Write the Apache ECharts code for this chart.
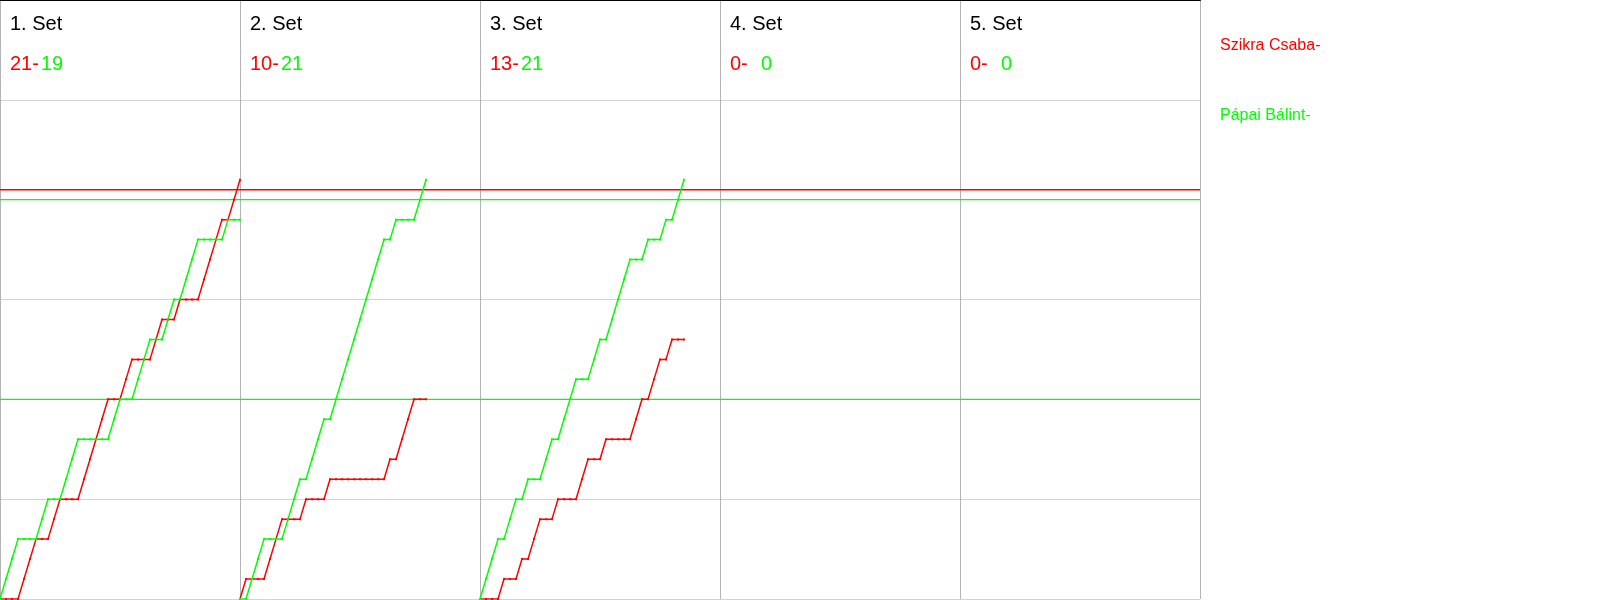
<!DOCTYPE html>
<html>
<head>
<meta charset="utf-8">
<script src="https://cdn.jsdelivr.net/npm/echarts@6/dist/echarts.min.js"></script>
<style>html,body{margin:0;padding:0;background:#fff}#c{width:1600px;height:600px}</style>
</head>
<body>
<div id="c"></div>
<script>
// ---- data ----
const setNames = ['1. Set', '2. Set', '3. Set', '4. Set', '5. Set'];
const redPlayer = 'Szikra Csaba';
const greenPlayer = 'Pápai Bálint';
const redSetPoints = [21, 10, 13, 0, 0];
const greenSetPoints = [19, 21, 21, 0, 0];
// running score after each rally (index = rally number)
const red1 = [0,0,0,0,1,2,3,3,3,4,5,5,5,5,6,7,8,9,10,10,10,11,12,12,12,12,13,14,14,14,15,15,15,15,16,17,18,19,19,20,21];
const green1 = [0,1,2,3,3,3,3,4,5,5,5,6,7,8,8,8,8,8,8,9,10,10,10,11,12,13,13,13,14,15,15,16,17,18,18,18,18,18,19,19,19];
const red2 = [0,1,1,1,1,2,3,4,4,4,4,5,5,5,5,6,6,6,6,6,6,6,6,6,6,7,7,8,9,10,10,10];
const green2 = [0,0,1,2,3,3,3,3,4,5,6,6,7,8,9,9,10,11,12,13,14,15,16,17,18,18,19,19,19,19,20,21];
const red3 = [0,0,0,0,1,1,1,2,2,3,4,4,4,5,5,5,5,6,7,7,7,8,8,8,8,8,9,10,10,11,12,12,13,13,13];
const green3 = [0,1,2,3,3,4,5,5,6,6,6,7,8,8,9,10,11,11,11,12,13,13,14,15,16,17,17,17,18,18,18,19,19,20,21];
const red4 = [];
const green4 = [];
const red5 = [];
const green5 = [];
const redLevels = [20.5];
const greenLevels = [20, 10];
const yTicks = [0, 5, 10, 15, 20, 25, 30];
const ralliesPerPanel = 40;

const redSets = [red1, red2, red3, red4, red5];
const greenSets = [green1, green2, green3, green4, green5];

// ---- chart ----
const RED = '#ff0000', GREEN = '#00ff00';
const FONT = 'Liberation Sans, Arial, sans-serif';
const PW = 240;

const grids = [], xAxes = [], yAxes = [], series = [], titles = [];
setNames.forEach((name, i) => {
  grids.push({ left: PW * i, top: 0, width: PW, height: 599, containLabel: false });
  xAxes.push({
    gridIndex: i, type: 'value', min: 0, max: ralliesPerPanel, interval: ralliesPerPanel,
    position: 'top',
    axisLine: { show: true, onZero: false, lineStyle: { color: '#000', width: 2 } },
    axisTick: { show: false }, axisLabel: { show: false },
    splitLine: { show: true, lineStyle: { color: '#b4b4b4', width: 1 } }
  });
  yAxes.push({
    gridIndex: i, type: 'value', min: yTicks[0], max: yTicks[yTicks.length - 1], interval: 5,
    axisLine: { show: false }, axisTick: { show: false }, axisLabel: { show: false },
    splitLine: { show: true, lineStyle: { color: '#d3d3d3', width: 1 } }
  });
  const levelSeries = (v, color) => ({
    type: 'line', xAxisIndex: i, yAxisIndex: i, silent: true,
    data: [[0, v], [ralliesPerPanel, v]], symbol: 'none',
    lineStyle: { color: color, width: 1.4, opacity: 1 }, z: 2
  });
  redLevels.forEach(v => series.push(levelSeries(v, RED)));
  greenLevels.forEach(v => series.push(levelSeries(v, GREEN)));
  series.push({
    name: redPlayer, type: 'line', xAxisIndex: i, yAxisIndex: i,
    data: redSets[i].map((v, k) => [k, v]),
    symbol: 'rect', symbolSize: 2, showSymbol: true,
    lineStyle: { color: RED, width: 1.5 }, itemStyle: { color: RED }, z: 3
  });
  series.push({
    name: greenPlayer, type: 'line', xAxisIndex: i, yAxisIndex: i,
    data: greenSets[i].map((v, k) => [k, v]),
    symbol: 'rect', symbolSize: 2, showSymbol: true,
    lineStyle: { color: GREEN, width: 1.5 }, itemStyle: { color: GREEN }, z: 3
  });
  titles.push({
    text: name, left: PW * i + 10, top: 14, padding: 0,
    textStyle: { fontFamily: FONT, fontSize: 20, fontWeight: 'normal', color: '#000' }
  });
  titles.push({
    text: '{r|' + redSetPoints[i] + '-}{g|' + greenSetPoints[i] + '}',
    left: PW * i + 10, top: 54, padding: 0,
    textStyle: {
      fontFamily: FONT, fontSize: 20, fontWeight: 'normal',
      rich: {
        r: { color: RED, fontFamily: FONT, fontSize: 20, width: 31 },
        g: { color: GREEN, fontFamily: FONT, fontSize: 20 }
      }
    }
  });
});

const option = {
  animation: false,
  backgroundColor: '#fff',
  title: titles,
  legend: {
    orient: 'vertical', left: 1210, top: 33,
    icon: 'none', itemWidth: 0, itemHeight: 16, itemGap: 54,
    formatter: n => n + '-',
    selectedMode: false,
    textStyle: { fontFamily: FONT, fontSize: 16 },
    data: [
      { name: redPlayer, textStyle: { color: RED } },
      { name: greenPlayer, textStyle: { color: GREEN } }
    ]
  },
  grid: grids, xAxis: xAxes, yAxis: yAxes, series: series
};

const chart = echarts.init(document.getElementById('c'), null, { renderer: 'canvas' });
chart.setOption(option);
</script>
</body>
</html>
